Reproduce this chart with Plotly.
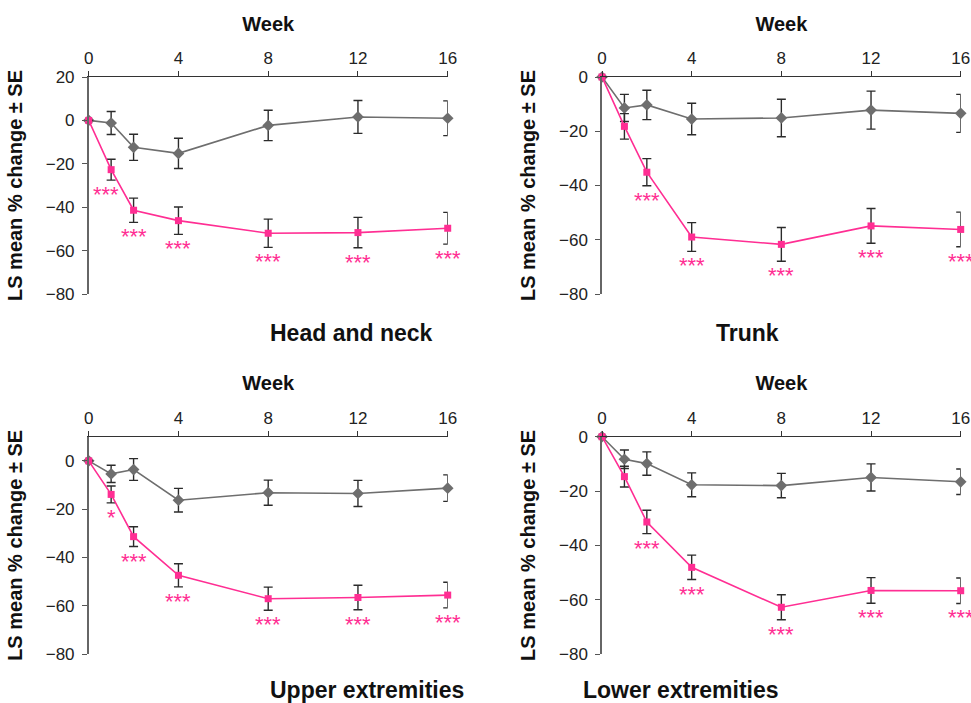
import plotly.graph_objects as go

weeks = [0, 1, 2, 4, 8, 12, 16]
panel_titles = ["Head and neck", "Trunk", "Upper extremities", "Lower extremities"]
y_ranges = [[-80, 20], [-80, 0], [-80, 10], [-80, 0]]
y_ticks = [[20, 0, -20, -40, -60, -80], [0, -20, -40, -60, -80],
           [0, -20, -40, -60, -80], [0, -20, -40, -60, -80]]

# Head and neck
hn_placebo = [0, -1.2, -12.4, -15.2, -2.3, 1.6, 1.0]
hn_placebo_se = [0, 5.3, 6.0, 7.0, 7.0, 7.6, 8.0]
hn_active = [0, -22.7, -41.4, -46.2, -52.0, -51.7, -49.7]
hn_active_se = [0, 4.8, 5.6, 6.3, 6.5, 7.0, 7.3]
hn_stars = ["", "***", "***", "***", "***", "***", "***"]

# Trunk
tr_placebo = [0, -11.4, -10.3, -15.5, -15.1, -12.2, -13.4]
tr_placebo_se = [0, 5.0, 5.4, 5.8, 6.9, 7.0, 7.0]
tr_active = [0, -18.2, -35.1, -59.0, -61.7, -54.9, -56.2]
tr_active_se = [0, 4.7, 5.0, 5.3, 6.2, 6.4, 6.4]
tr_stars = ["", "", "***", "***", "***", "***", "***"]

# Upper extremities
ue_placebo = [0, -5.4, -3.6, -16.3, -13.2, -13.5, -11.3]
ue_placebo_se = [0, 3.6, 4.5, 4.9, 5.2, 5.4, 5.5]
ue_active = [0, -13.9, -31.4, -47.4, -57.1, -56.6, -55.6]
ue_active_se = [0, 3.5, 4.1, 4.8, 4.8, 5.1, 5.3]
ue_stars = ["", "*", "***", "***", "***", "***", "***"]

# Lower extremities
le_placebo = [0, -8.3, -9.9, -17.7, -18.0, -15.0, -16.6]
le_placebo_se = [0, 3.4, 4.3, 4.4, 4.5, 5.0, 4.7]
le_active = [0, -14.7, -31.4, -48.1, -62.8, -56.6, -56.7]
le_active_se = [0, 3.8, 4.3, 4.5, 4.6, 4.7, 4.7]
le_stars = ["", "", "***", "***", "***", "***", "***"]

panels = [
    (hn_placebo, hn_placebo_se, hn_active, hn_active_se, hn_stars),
    (tr_placebo, tr_placebo_se, tr_active, tr_active_se, tr_stars),
    (ue_placebo, ue_placebo_se, ue_active, ue_active_se, ue_stars),
    (le_placebo, le_placebo_se, le_active, le_active_se, le_stars),
]

W, H = 971, 703
PINK = "#FF2E93"
GREY = "#6E6E6E"
ERR = "#2b2b2b"
FONT = "Liberation Sans, Arial, sans-serif"

# pixel boxes of plot areas: (left, right, top, bottom)
boxes = [(88.7, 447.7, 77, 294), (602, 960.7, 77, 294),
         (88.7, 447.7, 436.7, 654), (602, 960.7, 436.7, 654)]
title_y_px = [333, 333, 690, 690]

fig = go.Figure()
annotations = []
layout = {}
for i, (pl, pl_se, ac, ac_se, stars) in enumerate(panels):
    n = i + 1
    xa = "x" if n == 1 else f"x{n}"
    ya = "y" if n == 1 else f"y{n}"
    left, right, top, bottom = boxes[i]
    xdom = [left / W, right / W]
    ydom = [1 - bottom / H, 1 - top / H]

    fig.add_trace(go.Scatter(
        x=weeks, y=pl, xaxis=xa, yaxis=ya, mode="lines+markers",
        line=dict(color=GREY, width=1.6),
        marker=dict(symbol="diamond", size=9, color=GREY),
        error_y=dict(type="data", array=pl_se, color=ERR, thickness=1.4, width=4.5),
        cliponaxis=False, showlegend=False, name="Placebo"))
    fig.add_trace(go.Scatter(
        x=weeks, y=ac, xaxis=xa, yaxis=ya, mode="lines+markers",
        line=dict(color=PINK, width=1.6),
        marker=dict(symbol="square", size=7, color=PINK),
        error_y=dict(type="data", array=ac_se, color=ERR, thickness=1.4, width=4.5),
        cliponaxis=False, showlegend=False, name="Active"))

    for wk, m, s, st in zip(weeks, ac, ac_se, stars):
        if st:
            annotations.append(dict(
                x=wk, y=m - s, xref=xa, yref=ya, text=st, showarrow=False,
                yanchor="top", yshift=0, xshift=(-5 if (i == 0 and wk == 1) else 0),
                font=dict(color=PINK, size=22, family=FONT)))

    annotations.append(dict(
        x=(xdom[0] + xdom[1]) / 2, y=1 - title_y_px[i] / H, xref="paper", yref="paper",
        text=f"<b>{panel_titles[i]}</b>", showarrow=False, yanchor="middle",
        font=dict(size=23, color="#111", family=FONT)))

    layout["xaxis" if n == 1 else f"xaxis{n}"] = dict(
        domain=xdom, anchor=ya, side="top", range=[0, 16], automargin=False,
        tickvals=[0, 4, 8, 12, 16], ticks="outside", ticklen=5, tickwidth=1.3,
        tickcolor="#333", showline=True, linecolor="#333", linewidth=1.3,
        showgrid=False, zeroline=False,
        tickfont=dict(size=17, color="#222", family=FONT),
        title=dict(text="<b>Week</b>", font=dict(size=20, color="#111", family=FONT),
                   standoff=12))
    layout["yaxis" if n == 1 else f"yaxis{n}"] = dict(
        domain=ydom, anchor=xa, range=y_ranges[i], tickvals=y_ticks[i], automargin=False,
        ticks="outside", ticklen=5, tickwidth=1.3, tickcolor="#555",
        showline=True, linecolor="#666", linewidth=1.5, ticklabelstandoff=4,
        showgrid=False, zeroline=False,
        tickfont=dict(size=17, color="#222", family=FONT),
        title=dict(text="<b>LS mean % change ± SE</b>",
                   font=dict(size=20, color="#111", family=FONT), standoff=18))

fig.update_layout(
    width=W, height=H, margin=dict(l=0, r=0, t=0, b=0, autoexpand=False),
    paper_bgcolor="white", plot_bgcolor="white",
    annotations=annotations, **layout)

fig.write_html("out.html", config={"displayModeBar": False},
               post_script="document.body.style.margin='0';")
